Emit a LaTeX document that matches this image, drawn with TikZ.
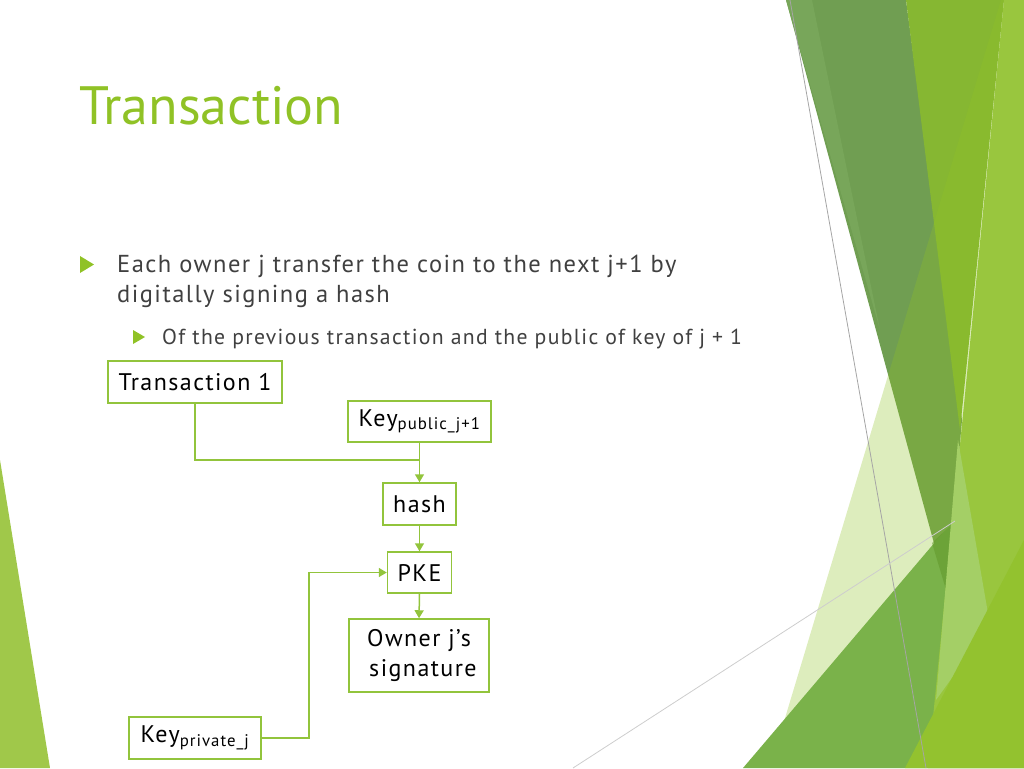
\documentclass[tikz,border=0pt]{standalone}
\usepackage{fontspec}
\setmainfont{PT Sans}
\newfontfamily\bodyfont[LetterSpace=6]{PT Sans}
\usetikzlibrary{arrows.meta,calc}
\definecolor{facet}{RGB}{144,194,38}
\definecolor{boxline}{RGB}{146,196,60}
\definecolor{bodytext}{RGB}{64,64,64}
\definecolor{darkband}{RGB}{112,158,82}
\definecolor{darkedge}{RGB}{120,166,90}
\definecolor{midgreen}{RGB}{134,183,50}
\definecolor{lowgreen}{RGB}{122,178,74}
\definecolor{deepgreen}{RGB}{96,150,40}
\definecolor{stripgreen}{RGB}{153,198,62}
\definecolor{lightwedge}{RGB}{164,207,102}
\definecolor{cornergreen}{RGB}{147,194,47}
\definecolor{leftgreen}{RGB}{160,200,74}
\definecolor{rulegray}{RGB}{165,165,165}
\definecolor{faintgray}{RGB}{205,205,205}
\tikzstyle{box}=[draw=boxline,line width=1.5pt,fill=white,inner sep=0pt,font=\bodyfont\fontsize{24}{30}\selectfont,text=black,align=center]
\tikzstyle{link}=[draw=boxline,line width=1.5pt]
\tikzstyle{arr}=[link,-{Triangle[width=9pt,length=8pt]}]

\begin{document}
\begin{tikzpicture}[x=1pt,y=-1pt]
		\useasboundingbox (0,0) rectangle (1024,768);
		% background facets
		\fill[darkband] (786,0) -- (906,0) -- (962,420) -- (947,591) -- cycle;
		\fill[darkedge] (786,0) -- (812,0) -- (880,330) -- cycle;
		\fill[midgreen] (906,0) -- (1004,0) -- (960,430) -- cycle;
		\fill[facet,opacity=0.3] (1001,0) -- (1024,0) -- (1024,768) -- (770,768) -- cycle;
		\fill[lowgreen] (743,768) -- (953,521) -- (1024,440) -- (1024,768) -- cycle;
		\fill[deepgreen,opacity=0.5] (932,543) -- (953,523) -- (947,593) -- cycle;
		\fill[stripgreen] (1004,0) -- (1024,0) -- (1024,768) -- (928,768) -- cycle;
		\fill[lightwedge] (958,440) -- (990,625) -- (936,700) -- cycle;
		\fill[cornergreen] (1024,540) -- (1024,768) -- (905,768) -- cycle;
		\fill[leftgreen] (0,460) -- (50,768) -- (0,768) -- cycle;
		\draw[rulegray,line width=0.8pt] (790,0) -- (926,768);
		\draw[faintgray,line width=0.8pt] (573,768) -- (955,521);
		% title and bullets
		\node[anchor=base west,text=facet,font=\fontsize{54}{60}\selectfont,inner sep=0pt] (title) at (79,124) {Transaction};
		\fill[facet] (80,256) -- (94,264.5) -- (80,273) -- cycle;
		\node[anchor=base west,text=bodytext,font=\bodyfont\fontsize{24.5}{30}\selectfont,inner sep=0pt] (lineone) at (117,272) {Each owner j transfer the coin to the next j+1 by};
		\node[anchor=base west,text=bodytext,font=\bodyfont\fontsize{24.5}{30}\selectfont,inner sep=0pt] (linetwo) at (117,302) {digitally signing a hash};
		\fill[facet] (133,330) -- (145,337) -- (133,344) -- cycle;
		\node[anchor=base west,text=bodytext,font=\bodyfont\fontsize{21.7}{26}\selectfont,inner sep=0pt] (subline) at (162,344) {Of the previous transaction and the public of key of j + 1};
		% boxes
		\node[box,minimum width=174pt,minimum height=42pt] (tx) at (195,382) {Transaction 1};
		\node[box,minimum width=143pt,minimum height=41pt] (kpub) at (419.5,421.5) {Key\textsubscript{public\_j+1}};
		\node[box,minimum width=73pt,minimum height=42pt] (hash) at (419.5,504) {hash};
		\node[box,minimum width=64pt,minimum height=41pt] (pke) at (419.5,572.5) {PKE};
		\node[box,minimum width=140pt,minimum height=73pt] (own) at (419,655.5) {Owner j’s\\ \ signature};
		\node[box,minimum width=132pt,minimum height=42pt] (kpriv) at (195,738) {Key\textsubscript{private\_j}};
		% connection
		\coordinate (join) at (419.5,460);
		\coordinate (kink) at (309,738);
		\draw[link] (tx.south) |- (join);
		\draw[arr] (kpub.south) -- (hash.north);
		\draw[arr] (hash.south) -- (pke.north);
		\draw[arr] (pke.south) -- (own.north);
		\draw[arr] (kpriv.east) -- (kink) |- (pke.west);
	\end{tikzpicture}
\end{document}
